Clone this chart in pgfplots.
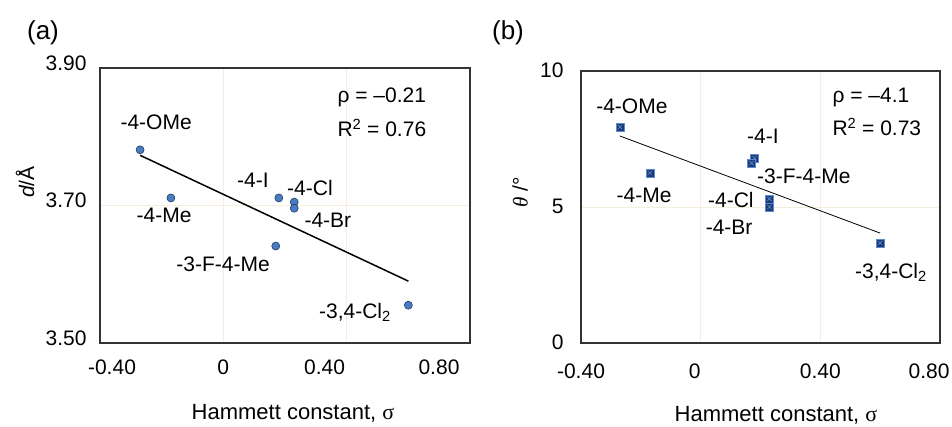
\documentclass[border=0pt]{standalone}
\usepackage{fontspec}
\setmainfont{Liberation Sans}
\newfontfamily\timesf{Liberation Serif}
\usepackage{pgfplots}
\pgfplotsset{compat=1.18}

\definecolor{gridc}{HTML}{F5EEDF}
\definecolor{framec}{HTML}{333333}
\definecolor{dotfill}{HTML}{4A7CC4}
\definecolor{dotedge}{HTML}{1F3864}
\definecolor{sqfill}{HTML}{1F3A70}
\definecolor{sqedge}{HTML}{5B8BD6}

\newcommand{\lab}{\fontsize{21}{25}\selectfont}
% blank room beside a tick label, to shift it off its tick as the original does
\newcommand{\gap}[1]{\rule{#1}{0pt}}

\pgfplotsset{
  panel/.style={
    scale only axis, clip=false,
    xmin=-0.4, xmax=0.8,
    axis line style={framec, line width=1.6pt},
    grid=major, grid style={gridc, line width=0.8pt},
    major tick length=0pt,
    xtick={-0.4,0,0.4,0.8},
    tick label style={font=\lab},
  }
}

\begin{document}
\begin{tikzpicture}[font=\lab]
\useasboundingbox (0pt,0pt) rectangle (952pt,427pt);

% (a) interplanar distance
\begin{axis}[panel, at={(100pt,84pt)}, anchor=south west,
  width=370pt, height=275pt,
  ymin=3.5, ymax=3.9,
  xticklabels={\gap{24pt}-0.40, 0, 0.40\gap{44pt}, 0.80\gap{62pt}},
  ytick={3.5,3.7,3.9}, yticklabels={3.50,3.70,3.90},
  yticklabel style={xshift=-10pt, yshift=5pt},
  xticklabel style={yshift=-13pt}]
\addplot[black, line width=1.5pt] coordinates {(-0.27,3.773) (0.60,3.590)};
\addplot[only marks, mark=*, mark size=4pt,
  mark options={fill=dotfill, draw=dotedge, line width=0.6pt}]
  coordinates {
    (-0.27,3.781) (-0.17,3.711) (0.18,3.711) (0.23,3.705)
    (0.23,3.696) (0.17,3.641) (0.60,3.555)
  };
\node at (axis cs:-0.218,3.821) {-4-OMe};
\node at (axis cs:0.096,3.737) {-4-I};
\node at (axis cs:0.281,3.725) {-4-Cl};
\node at (axis cs:-0.192,3.686) {-4-Me};
\node at (axis cs:0.339,3.679) {-4-Br};
\node at (axis cs:-0.001,3.615) {-3-F-4-Me};
\node at (axis cs:0.427,3.545) {-3,4-Cl\textsubscript{2}};
\node[anchor=west] at (axis cs:0.359,3.858) {ρ = –0.21};
\node[anchor=west] at (axis cs:0.359,3.813) {R\textsuperscript{2} = 0.76};
\end{axis}

% (b) dihedral angle
\begin{axis}[panel, at={(581pt,84pt)}, anchor=south west,
  width=359pt, height=272pt,
  ymin=0, ymax=10,
  xticklabels={-0.40, 0\gap{12pt}, 0.40, 0.80\gap{22pt}},
  ytick={0,5,10}, yticklabels={0,5,10},
  yticklabel style={xshift=-14pt, yshift=1pt},
  xticklabel style={yshift=-17pt}]
\addplot[black, line width=0.8pt] coordinates {(-0.27,7.61) (0.60,4.04)};
\addplot[only marks, mark=square*, mark size=4pt,
  mark options={fill=sqfill, draw=sqedge, line width=0.6pt}]
  coordinates {
    (-0.27,7.94) (-0.17,6.25) (0.18,6.80) (0.17,6.62)
    (0.23,5.30) (0.23,5.00) (0.60,3.68)
  };
\addplot[only marks, mark=x, mark size=3pt,
  mark options={draw=sqedge, line width=0.6pt}]
  coordinates {
    (-0.27,7.94) (-0.17,6.25) (0.18,6.80) (0.17,6.62)
    (0.23,5.30) (0.23,5.00) (0.60,3.68)
  };
\node at (axis cs:-0.230,8.71) {-4-OMe};
\node at (axis cs:0.208,7.61) {-4-I};
\node at (axis cs:0.345,6.14) {-3-F-4-Me};
\node at (axis cs:-0.189,5.44) {-4-Me};
\node at (axis cs:0.101,5.26) {-4-Cl};
\node at (axis cs:0.095,4.27) {-4-Br};
\node at (axis cs:0.636,2.60) {-3,4-Cl\textsubscript{2}};
\node[anchor=west] at (axis cs:0.429,9.04) {ρ = –4.1};
\node[anchor=west] at (axis cs:0.429,7.94) {R\textsuperscript{2} = 0.73};
\end{axis}

% panel letters and axis titles
\node[font=\fontsize{26}{30}\selectfont] at (43pt,394pt) {(a)};
\node[font=\fontsize{26}{30}\selectfont] at (508pt,394pt) {(b)};
\node[font=\fontsize{22}{26}\selectfont] at (293pt,14pt) {Hammett constant, {\timesf σ}};
\node[font=\fontsize{22}{26}\selectfont] at (776pt,12pt) {Hammett constant, {\timesf σ}};
\node[rotate=90] at (25pt,245pt) {{\itshape d}/Å};
\node[rotate=90] at (520pt,235pt) {{\timesf\itshape θ} /°};
\end{tikzpicture}
\end{document}
